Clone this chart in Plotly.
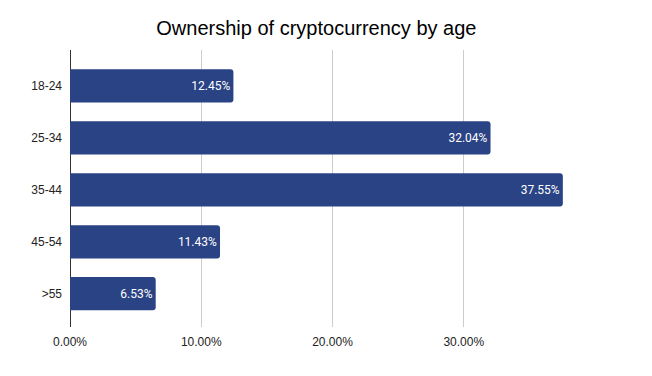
import plotly.graph_objects as go

categories = ["18-24", "25-34", "35-44", "45-54", ">55"]
values = [12.45, 32.04, 37.55, 11.43, 6.53]
labels = ["12.45%", "32.04%", "37.55%", "11.43%", "6.53%"]
tick_vals = [0, 10, 20, 30, 40]
tick_text = ["0.00%", "10.00%", "20.00%", "30.00%", ""]

fig = go.Figure(go.Bar(
    x=values, y=categories, orientation="h",
    marker=dict(color="#2a4385", cornerradius=3, line=dict(width=0)),
    text=labels, textposition="inside", insidetextanchor="end",
    textfont=dict(color="white", size=12, family="Roboto"),
    width=0.64,
))

fig.update_layout(
    width=652, height=376,
    margin=dict(l=62, r=65, t=42, b=57, autoexpand=False),
    paper_bgcolor="white", plot_bgcolor="white",
    title=dict(text="Ownership of cryptocurrency by age", x=306/652, xanchor="center",
               xref="paper",
               y=1 - 20/376, yanchor="middle",
               font=dict(family="Liberation Sans", size=20, color="black")),
    font=dict(family="Liberation Sans", size=12, color="#222"),
    showlegend=False,
)
fig.update_xaxes(range=[0, 40], tickvals=tick_vals, ticktext=tick_text,
                 showgrid=True, gridcolor="#cccccc", gridwidth=1,
                 zeroline=True, zerolinecolor="#333333", zerolinewidth=1,
                 tickfont=dict(family="Liberation Sans", size=12, color="#222"),
                 ticks="", ticklabelstandoff=6, automargin=False)
fig.update_yaxes(categoryorder="array", categoryarray=categories,
                 range=[4.64, -0.69], showgrid=False, zeroline=False,
                 ticks="", ticklabelstandoff=7, automargin=False,
                 tickfont=dict(family="Liberation Sans", size=12, color="#222"))

fig.write_html("out.html")
